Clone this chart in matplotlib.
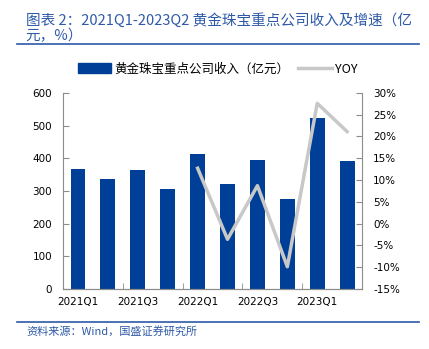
import matplotlib.pyplot as plt
import matplotlib.ticker as mticker
from matplotlib.lines import Line2D
from matplotlib.patches import Patch
import numpy as np

plt.rcParams['font.family'] = ['Noto Sans CJK SC', 'DejaVu Sans']

quarters = ['2021Q1', '2021Q2', '2021Q3', '2021Q4', '2022Q1',
            '2022Q2', '2022Q3', '2022Q4', '2023Q1', '2023Q2']
revenue = [366, 336, 363, 307, 412, 322, 394, 276, 522, 391]
yoy = [np.nan, np.nan, np.nan, np.nan, 12.7, -3.6, 8.7, -9.9, 27.6, 21.1]

bar_color = '#003F98'
line_color = '#C8C8C8'
text_blue = '#2E5AA8'
spine_color = '#8C8C8C'

fig = plt.figure(figsize=(4.29, 3.49), dpi=100)
ax = fig.add_axes([0.147, 0.172, 0.697, 0.562])
ax2 = ax.twinx()

x = np.arange(len(quarters))
ax.bar(x, revenue, width=0.5, color=bar_color, zorder=2)
ax2.plot(x, yoy, color=line_color, lw=2.5, zorder=3)

ax.set_xlim(-0.5, len(quarters) - 0.5)
ax.set_ylim(0, 600)
ax.set_yticks(range(0, 601, 100))
ax2.set_ylim(-15, 30)
ax2.set_yticks(range(-15, 31, 5))
ax2.yaxis.set_major_formatter(mticker.FuncFormatter(lambda v, p: f'{v:.0f}%'))

ax.set_xticks(x[::2])
ax.set_xticklabels(quarters[::2])
ax.set_xticks(np.arange(1.5, len(quarters) - 1, 2), minor=True)
ax.tick_params(axis='x', which='major', length=0, pad=6)
ax.tick_params(axis='x', which='minor', length=4, direction='in', color=spine_color)

for a in (ax, ax2):
    a.spines['top'].set_visible(False)
    for s in ('left', 'right', 'bottom'):
        a.spines[s].set_color(spine_color)
        a.spines[s].set_linewidth(0.8)
    a.tick_params(axis='y', direction='in', length=4, color=spine_color,
                  labelsize=7.5, pad=8)
ax.tick_params(axis='x', labelsize=7.5)
ax2.spines['left'].set_visible(False)
ax.spines['right'].set_visible(False)

for lab in ax.get_xticklabels() + ax.get_yticklabels() + ax2.get_yticklabels():
    lab.set_family(['DejaVu Sans'])

# legend
handles = [Patch(color=bar_color), Line2D([0], [0], color=line_color, lw=2.5)]
labels = ['黄金珠宝重点公司收入（亿元）', 'YOY']
fig.legend(handles, labels, loc='center', bbox_to_anchor=(0.507, 0.802), ncol=2,
           frameon=False, fontsize=9, handlelength=2.7, handleheight=0.8,
           handletextpad=0.25, columnspacing=0.7)

# header / footer
fig.text(0.06, 0.942, '图表 2：2021Q1-2023Q2 黄金珠宝重点公司收入及增速（亿',
         color=text_blue, fontsize=10.5, style='italic', va='center')
fig.text(0.06, 0.897, '元，%）', color=text_blue, fontsize=10.5, style='italic', va='center')
fig.add_artist(Line2D([0.04, 0.977], [0.873, 0.873], color=text_blue, lw=1.2))
fig.add_artist(Line2D([0.04, 0.977], [0.078, 0.078], color=text_blue, lw=1.2))
fig.text(0.062, 0.052, '资料来源：Wind，国盛证券研究所', color=text_blue,
         fontsize=8, style='italic', va='center')

fig.savefig('out.png', dpi=100)
